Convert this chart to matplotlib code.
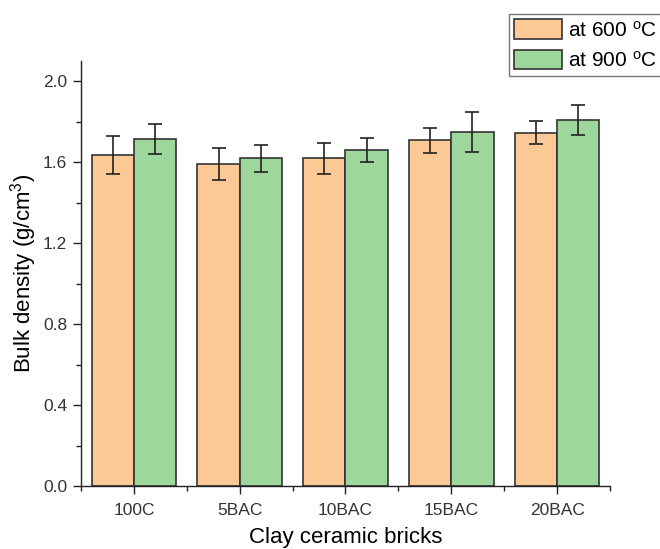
import matplotlib
matplotlib.use("Agg")
import matplotlib.pyplot as plt
import numpy as np
from matplotlib.ticker import MultipleLocator, FixedLocator

plt.rcParams.update({"font.family": "Liberation Sans", "mathtext.fontset": "custom",
                     "mathtext.rm": "Liberation Sans", "mathtext.it": "Liberation Sans",
                     "font.size": 12})

samples = ["100C", "5BAC", "10BAC", "15BAC", "20BAC"]
bd_600 = [1.635, 1.592, 1.620, 1.708, 1.745]
err_600 = [0.095, 0.080, 0.077, 0.060, 0.057]
bd_900 = [1.714, 1.620, 1.662, 1.750, 1.808]
err_900 = [0.074, 0.066, 0.060, 0.098, 0.075]
labels = ["at 600 $^{\\mathrm{o}}$C", "at 900 $^{\\mathrm{o}}$C"]
COL = {"600": "#FCC895", "900": "#9ED79C"}

fig = plt.figure(figsize=(6.6, 5.49), dpi=100)
ax = fig.add_axes([0.1227, 0.1148, 0.8015, 0.774])

x = np.arange(len(samples))
w = 0.4
ekw = dict(ecolor="#222222", elinewidth=1.2, capsize=5, capthick=1.2)
b1 = ax.bar(x - w / 2, bd_600, w, yerr=err_600, color=COL["600"], edgecolor="#333333",
            linewidth=1.2, error_kw=ekw, label=labels[0])
b2 = ax.bar(x + w / 2, bd_900, w, yerr=err_900, color=COL["900"], edgecolor="#333333",
            linewidth=1.2, error_kw=ekw, label=labels[1])

ax.set_xlim(-0.5, 4.5)
ax.set_ylim(0, 2.1)
ax.yaxis.set_major_locator(FixedLocator([0.0, 0.4, 0.8, 1.2, 1.6, 2.0]))
ax.yaxis.set_minor_locator(MultipleLocator(0.2))
ax.yaxis.set_major_formatter(matplotlib.ticker.FormatStrFormatter("%.1f"))
ax.set_xticks(x)
ax.set_xticklabels(samples)
ax.xaxis.set_minor_locator(FixedLocator(np.arange(-0.5, 4.6, 1.0)))
ax.tick_params(which="major", direction="out", length=6, width=1, color="#222222",
               labelcolor="#333333", labelsize=12.5, pad=4)
ax.tick_params(which="minor", direction="out", length=3.5, width=1, color="#222222")
ax.tick_params(axis="x", which="major", pad=6)
for s in ("top", "right"):
    ax.spines[s].set_visible(False)
for s in ("left", "bottom"):
    ax.spines[s].set_linewidth(1.0)
    ax.spines[s].set_color("#222222")

ax.set_xlabel("Clay ceramic bricks", fontsize=16, labelpad=7)
ax.set_ylabel("Bulk density (g/cm$^3$)", fontsize=16, labelpad=3)

leg = fig.legend(handles=[b1, b2], loc="upper left", bbox_to_anchor=(0.771, 0.974),
                 fontsize=15, frameon=True, fancybox=False, edgecolor="#555555",
                 handlelength=2.3, handleheight=1.05, handletextpad=0.3,
                 borderpad=0.25, labelspacing=0.45, borderaxespad=0)
leg.get_frame().set_linewidth(1.0)

fig.savefig("out.png", dpi=100)
